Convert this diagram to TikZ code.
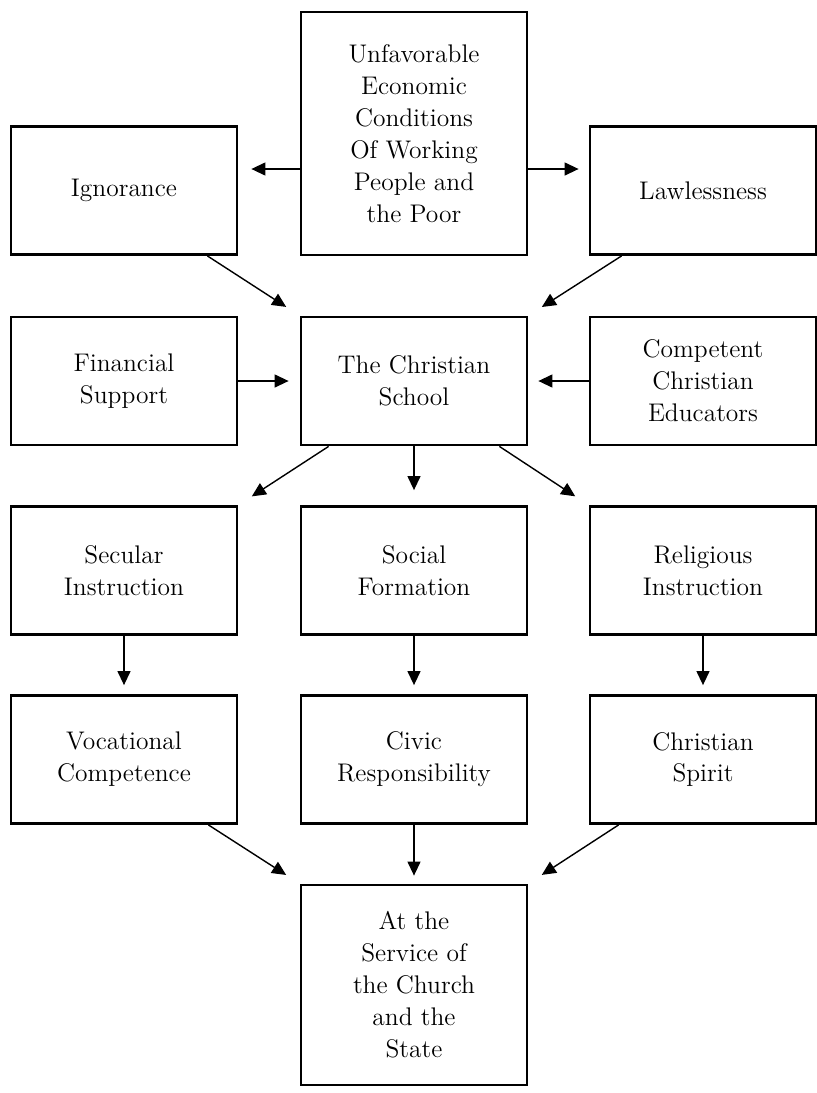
\documentclass[tikz,border=0pt]{standalone}
\usepackage{tikz}
\usetikzlibrary{arrows.meta}

\begin{document}
\begin{tikzpicture}[x=0.02cm,y=-0.02cm,
    box/.style={rectangle,draw,line width=1.6pt,minimum width=4.52cm,
      minimum height=2.56cm,align=center,inner sep=2pt,
      font=\fontsize{14.5}{18.2}\selectfont},
    arr/.style={-{Triangle[length=8pt,width=7.4pt]},line width=0.8pt,
      shorten >=0.18cm}]

    \useasboundingbox (0,0) rectangle (817,1093);

    \def\xl{124}
    \def\xm{414}
    \def\xr{703}

    %==================== Causes ====================
    \node[box,minimum height=4.86cm] (top) at (\xm,133.5)
      {Unfavorable\\Economic\\Conditions\\Of Working\\People and\\the Poor};
    \node[box] (ign) at (\xl,190.5) {Ignorance};
    \node[box] (law) at (\xr,190.5) {Lawlessness};
    \coordinate (lvl) at (0,169);

    \draw[arr,shorten >=0.26cm] (top.west |- lvl) -- (ign.east |- lvl);
    \draw[arr,shorten >=0.2cm] (top.east |- lvl) -- (law.west |- lvl);

    %==================== The school ====================
    \node[box] (fin) at (\xl,381) {Financial\\Support};
    \node[box] (sch) at (\xm,381) {The Christian\\School};
    \node[box] (com) at (\xr,381) {Competent\\Christian\\Educators};

    \draw[arr,shorten >=0.32cm] ([xshift=-0.62cm]ign.south east) -- (sch.north west);
    \draw[arr,shorten >=0.32cm] ([xshift=0.66cm]law.south west) -- (sch.north east);
    \draw[arr,shorten >=0.22cm] (fin.east) -- (sch.west);
    \draw[arr,shorten >=0.2cm] (com.west) -- (sch.east);

    %==================== Formation ====================
    \foreach \n/\x/\t in {sec/\xl/{Secular\\Instruction},
                          soc/\xm/{Social\\Formation},
                          rel/\xr/{Religious\\Instruction}} {
      \node[box] (\n) at (\x,570.5) {\t};
    }

    \draw[arr,shorten >=0.32cm] ([xshift=0.58cm]sch.south west) -- (sec.north east);
    \draw[arr,shorten >=0.3cm] (sch.south) -- (soc.north);
    \draw[arr,shorten >=0.32cm] ([xshift=-0.58cm]sch.south east) -- (rel.north west);

    %==================== Outcomes ====================
    \foreach \n/\x/\t in {voc/\xl/{Vocational\\Competence},
                          civ/\xm/{Civic\\Responsibility},
                          spi/\xr/{Christian\\Spirit}} {
      \node[box] (\n) at (\x,759.5) {\t};
    }

    \foreach \a/\b in {sec/voc,soc/civ,rel/spi} {
      \draw[arr] (\a.south) -- (\b.north);
    }

    %==================== Goal ====================
    \node[box,minimum height=4.0cm] (srv) at (\xm,985)
      {At the\\Service of\\the Church\\and the\\State};

    \draw[arr,shorten >=0.32cm] ([xshift=-0.6cm]voc.south east) -- (srv.north west);
    \draw[arr,shorten >=0.16cm] (civ.south) -- (srv.north);
    \draw[arr,shorten >=0.32cm] ([xshift=0.6cm]spi.south west) -- (srv.north east);

  \end{tikzpicture}
\end{document}
